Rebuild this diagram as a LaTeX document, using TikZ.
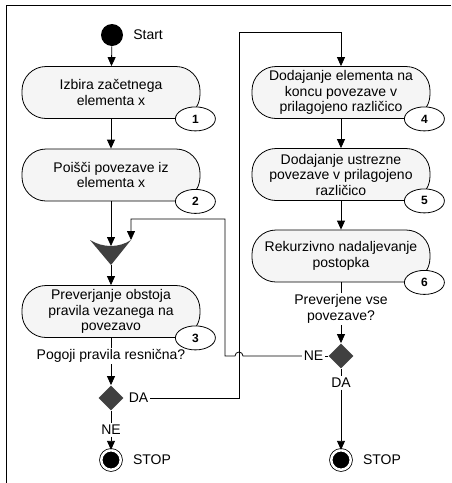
\documentclass[tikz,border=0pt]{standalone}
\usepackage{fontspec}
\setmainfont{Liberation Sans}
\usetikzlibrary{arrows.meta,positioning,shapes.geometric}
\definecolor{actfill}{RGB}{245,245,245}
\definecolor{decgray}{RGB}{64,64,64}

\begin{document}
\begin{tikzpicture}[
    x=1pt,y=-1pt,
    font=\fontsize{14}{15.5}\selectfont,
    line width=0.8pt,
    act/.style={draw,rounded corners=24pt,fill=actfill,align=center,
                minimum width=178pt,minimum height=52pt,inner sep=1pt},
    num/.style={draw,ellipse,fill=white,minimum width=40pt,minimum height=24pt,
                inner sep=0pt,font=\fontsize{12}{12}\selectfont\bfseries},
    dec/.style={diamond,fill=decgray,minimum size=25pt,inner sep=0pt},
    lbl/.style={inner sep=1.5pt,align=center},
    fin/.style={circle,draw,fill=black,double=white,double distance=2.5pt,
                minimum size=19.5pt,inner sep=0pt},
    ar/.style={-{Triangle[length=9pt,width=8pt]}}
  ]
  \useasboundingbox (0,0) rectangle (451,483);
  \draw (6,483) |- (451,5);

  % left column
  \node[circle,fill,minimum size=22pt,inner sep=0pt] (start) at (112,35) {};
  \node[lbl,right=8pt of start] (startlbl) {Start};
  \node[act] (izbira) at (111,92.5) {Izbira začetnega\\elementa x};
  \node[num] (n1) at ([xshift=-5pt]izbira.south east) {1};
  \node[act] (poisci) at (111,175) {Poišči povezave iz\\elementa x};
  \node[num] (n2) at ([xshift=-5pt]poisci.south east) {2};
  \draw[ar] (start) -- (izbira);
  \draw[ar] (izbira) -- (poisci);

  % merge
  \fill[decgray] (90,240) .. controls (103,248) and (119,248) .. (131,240) -- (111,265) -- cycle;
  \coordinate (mrgL) at (111,246);
  \coordinate (mrgR) at (131,240);
  \coordinate (mrgtip) at (111,265);
  \draw[ar] (poisci) -- (mrgL);

  \node[act] (prever) at (111,311.5) {Preverjanje obstoja\\pravila vezanega na\\povezavo};
  \node[num] (n3) at ([xshift=-5pt]prever.south east) {3};
  \node[lbl] (pogoj) at (111,356) {Pogoji pravila resnična?};
  \node[dec] (d1) at (111,398) {};
  \node[lbl,right=3pt of d1] (da1) {DA};
  \node[lbl] (ne1) at (111,430) {NE};
  \node[fin] (stop1) at (111,460) {};
  \node[lbl,right=10pt of stop1] (stop1lbl) {STOP};
  \draw[ar] (mrgtip) -- (prever);
  \draw (prever) -- (pogoj);
  \draw[ar] (pogoj) -- (d1);
  \draw (d1) -- (ne1);
  \draw[ar] (ne1) -- (stop1);

  % right column
  \node[act] (dodaj) at (341,92.5) {Dodajanje elementa na\\koncu povezave v\\prilagojeno različico};
  \node[num] (n4) at ([xshift=-6pt]dodaj.south east) {4};
  \node[act] (ustrez) at (341,174.5) {Dodajanje ustrezne\\povezave v prilagojeno\\različico};
  \node[num] (n5) at ([xshift=-6pt]ustrez.south east) {5};
  \node[act] (rekurz) at (341,256) {Rekurzivno nadaljevanje\\postopka};
  \node[num] (n6) at ([xshift=-6pt]rekurz.south east) {6};
  \node[lbl] (vse) at (341,309) {Preverjene vse\\povezave?};
  \node[dec] (d2) at (341,356) {};
  \node[lbl,left=3pt of d2] (ne2) {NE};
  \node[lbl] (da2) at (341,383) {DA};
  \node[fin] (stop2) at (341,460) {};
  \node[lbl,right=10pt of stop2] (stop2lbl) {STOP};
  \draw[ar] (dodaj) -- (ustrez);
  \draw[ar] (ustrez) -- (rekurz);
  \draw (rekurz) -- (vse);
  \draw[ar] (vse) -- (d2);
  \draw (d2) -- (ne2);
  \draw (d2) -- (da2);
  \draw[ar] (da2) -- (stop2);

  % loops
  \coordinate (daup) at (239,32);
  \draw[ar] (da1.east) -| (daup) -| (dodaj.north);
  \coordinate (hopE) at (243,356);
  \coordinate (loopC) at (225,219);
  \draw[ar] (ne2.west) -- (hopE) arc[start angle=0,end angle=-180,radius=4]
    -- (loopC |- hopE) -- (loopC) -| (mrgR);
\end{tikzpicture}
\end{document}
